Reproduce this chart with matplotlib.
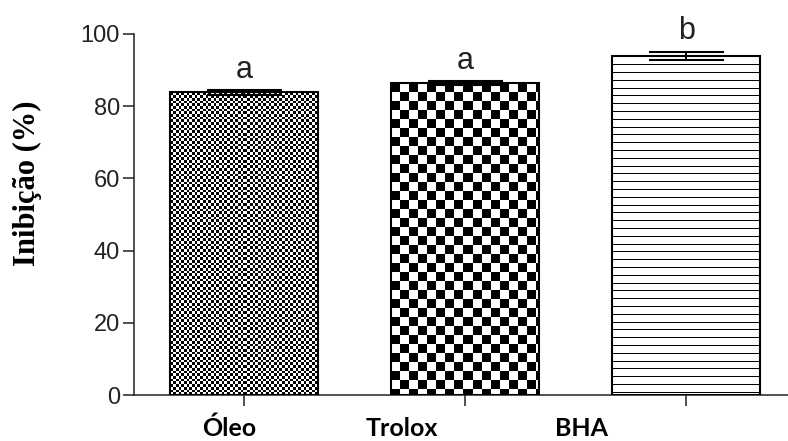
import matplotlib
matplotlib.use('Agg')
import matplotlib.pyplot as plt
import matplotlib.transforms as mtransforms
import numpy as np

categories = ['Óleo', 'Trolox', 'BHA']
values = [83.8, 86.4, 93.9]
errors = [0.65, 0.6, 1.2]
letters = ['a', 'a', 'b']
yticks = [0, 20, 40, 60, 80, 100]

W, H = 788, 441
fig = plt.figure(figsize=(W / 100, H / 100), dpi=100)
ax = fig.add_axes([134 / W, 46 / H, 654 / W, 361 / H])

x = np.arange(len(categories))
bars = ax.bar(x, values, width=0.67, facecolor='none', edgecolor='black',
              linewidth=1.5, zorder=3)
ax.errorbar(x, values, yerr=errors, fmt='none', ecolor='black',
            elinewidth=1.5, capsize=27, capthick=1.5, zorder=4)

ax.set_xlim(-0.5, 2.46)
ax.set_ylim(0, 100)
for s in ['top', 'right']:
    ax.spines[s].set_visible(False)
for s in ['left', 'bottom']:
    ax.spines[s].set_linewidth(1.1)
    ax.spines[s].set_color('#222222')

ax.set_yticks(yticks)
ax.set_yticklabels([str(t) for t in yticks], fontfamily='Liberation Sans',
                   fontsize=17, color='#222222')
ax.set_xticks(x)
ax.set_xticklabels([])
ax.tick_params(axis='both', direction='out', length=8, width=1.1,
               color='#222222', pad=2)

# fill patterns drawn as images clipped to each bar
fig.canvas.draw()
renderer = fig.canvas.get_renderer()

def pattern(kind, h, w):
    i = np.arange(h)[:, None]
    j = np.arange(w)[None, :]
    if kind == 'fine':
        c = 2.7
        return ((np.floor(i / c) + np.floor(j / c)) % 2).astype(float) * np.ones((h, w))
    if kind == 'coarse':
        c = 9.0
        return ((np.floor(i / c) + np.floor(j / c)) % 2).astype(float) * np.ones((h, w))
    # horizontal lines
    return np.where((i % 7.8) < 1.0, 0.0, 1.0) * np.ones((h, w))

kinds = ['fine', 'coarse', 'lines']
for bar, kind in zip(bars, kinds):
    bb = bar.get_window_extent(renderer)
    w = max(int(round(bb.width)), 1)
    h = max(int(round(bb.height)), 1)
    img = pattern(kind, h, w)
    im = ax.imshow(img, cmap='gray', vmin=0, vmax=1, interpolation='nearest',
                   extent=(bar.get_x(), bar.get_x() + bar.get_width(), 0, bar.get_height()),
                   origin='upper', aspect='auto', zorder=2)
    im.set_clip_path(bar)

ax.set_xlim(-0.5, 2.46)
ax.set_ylim(0, 100)

# significance letters
for xi, v, e, t in zip(x, values, errors, letters):
    ax.text(xi, v + e + 3.4, t, ha='center', va='baseline', fontsize=22,
            fontfamily='Liberation Sans', color='#222222')

# category labels (offset to the left of ticks as in the original)
label_offsets = [-0.068, -0.29, -0.475]
trans = mtransforms.blended_transform_factory(ax.transData, fig.transFigure)
for xi, off, lab in zip(x, label_offsets, categories):
    ax.text(xi + off, 1 / H, lab, transform=trans, ha='center', va='bottom',
            fontsize=18, fontweight='bold', fontfamily='Lato', color='black',
            clip_on=False)

fig.text(27 / W, 1 - 183 / H, 'Inibição (%)', rotation=90, ha='center',
         va='center', fontsize=22, fontweight='bold',
         fontfamily='Liberation Serif', color='black')

fig.savefig('out.png', dpi=100)
